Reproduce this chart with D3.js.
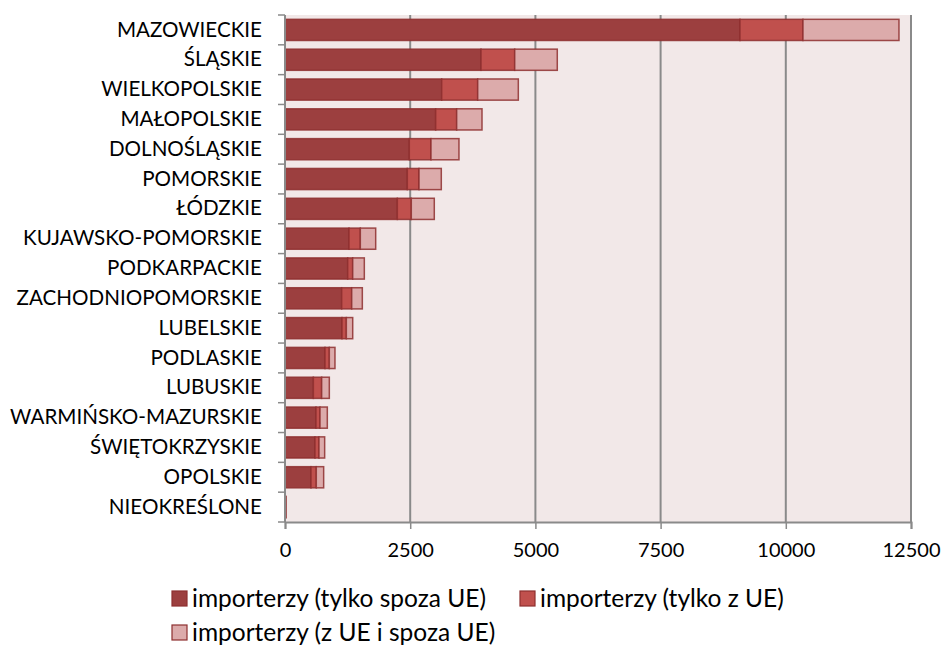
<!DOCTYPE html>
<html><head><meta charset="utf-8">
<script src="https://cdn.jsdelivr.net/npm/d3@7"></script>
<style>body{margin:0;background:#fff}svg{display:block}text{font-family:Lato,"Open Sans",sans-serif;fill:#000}</style>
</head><body><svg id="c" width="947" height="646"></svg>
<script>
const categories = ["MAZOWIECKIE","ŚLĄSKIE","WIELKOPOLSKIE","MAŁOPOLSKIE","DOLNOŚLĄSKIE","POMORSKIE","ŁÓDZKIE","KUJAWSKO-POMORSKIE","PODKARPACKIE","ZACHODNIOPOMORSKIE","LUBELSKIE","PODLASKIE","LUBUSKIE","WARMIŃSKO-MAZURSKIE","ŚWIĘTOKRZYSKIE","OPOLSKIE","NIEOKREŚLONE"];
const seriesNames = ["importerzy (tylko spoza UE)","importerzy (tylko z UE)","importerzy (z UE i spoza UE)"];
const onlyNonEU = [9085,3914,3129,3009,2482,2442,2243,1278,1252,1132,1138,799,566,619,599,519,12];
const onlyEU    = [1258,673,719,419,433,234,279,226,100,200,87,86,166,80,80,106,2];
const both      = [1917,850,811,506,559,445,459,307,232,212,127,113,153,146,113,147,2];
const xTicks = [0,2500,5000,7500,10000,12500];
const colors = ["#9c3f3f","#c0504d","#dcabab"];

const svg = d3.select("#c");
const L=285,R=911,T=15,B=522;
const x = d3.scaleLinear().domain([0,12500]).range([L,R]);
const y = d3.scaleBand().domain(categories).range([T,B]).paddingInner(0.29).paddingOuter(0.145);

svg.append("rect").attr("x",L).attr("y",T).attr("width",R-L).attr("height",B-T).attr("fill","#f2e8e8");

// gridlines
svg.append("g").selectAll("line").data(xTicks.slice(1)).join("line")
  .attr("x1",d=>x(d)).attr("x2",d=>x(d)).attr("y1",T).attr("y2",B)
  .attr("stroke","#8a8a8a").attr("stroke-width",2);

const data = categories.map((c,i)=>({cat:c,v:[onlyNonEU[i],onlyEU[i],both[i]]}));
const stack = d3.stack().keys([0,1,2]).value((d,k)=>d.v[k]);
const stacked = stack(data);
svg.append("g").selectAll("g").data(stacked).join("g")
  .attr("fill",(d,i)=>colors[i])
  .selectAll("rect").data(d=>d).join("rect")
  .attr("x",d=>x(d[0])).attr("width",d=>Math.max(0,x(d[1])-x(d[0])))
  .attr("y",d=>y(d.data.cat)).attr("height",y.bandwidth())
  .attr("stroke","#8e2f2f").attr("stroke-width",1.5).attr("stroke-opacity",0.85);

// y axis
const ya = svg.append("g").attr("transform",`translate(${L},0)`)
  .call(d3.axisLeft(y).tickSize(0).tickPadding(23));
ya.select(".domain").remove();
ya.selectAll("text").style("font-size","20.6px");
const yb = svg.append("g");
const bounds = d3.range(categories.length+1).map(i=>T+(B-T)*i/categories.length);
yb.append("line").attr("x1",L).attr("x2",L).attr("y1",T).attr("y2",B).attr("stroke","#8a8a8a").attr("stroke-width",2);
yb.selectAll("line.t").data(bounds).join("line").attr("class","t")
  .attr("x1",L-7).attr("x2",L).attr("y1",d=>d).attr("y2",d=>d).attr("stroke","#8a8a8a").attr("stroke-width",1.5);

// x axis
const xa = svg.append("g").attr("transform",`translate(0,${B})`)
  .call(d3.axisBottom(x).tickValues(xTicks).tickSize(7).tickPadding(14).tickFormat(d3.format("d")));
xa.select(".domain").attr("stroke","#8a8a8a").attr("stroke-width",2);
xa.selectAll(".tick line").attr("stroke","#8a8a8a").attr("stroke-width",1.5);
xa.selectAll("text").style("font-size","20px");

// legend
const leg = [{x:172,y:591},{x:520,y:591},{x:172,y:625}];
const lg = svg.append("g").selectAll("g").data(seriesNames).join("g")
  .attr("transform",(d,i)=>`translate(${leg[i].x},${leg[i].y})`);
lg.append("rect").attr("width",15).attr("height",15).attr("fill",(d,i)=>colors[i]).attr("stroke","#8e2f2f").attr("stroke-width",1.2);
lg.append("text").attr("x",20).attr("y",7.5).attr("dy","0.35em").style("font-size","24.5px").text(d=>d);
</script></body></html>
